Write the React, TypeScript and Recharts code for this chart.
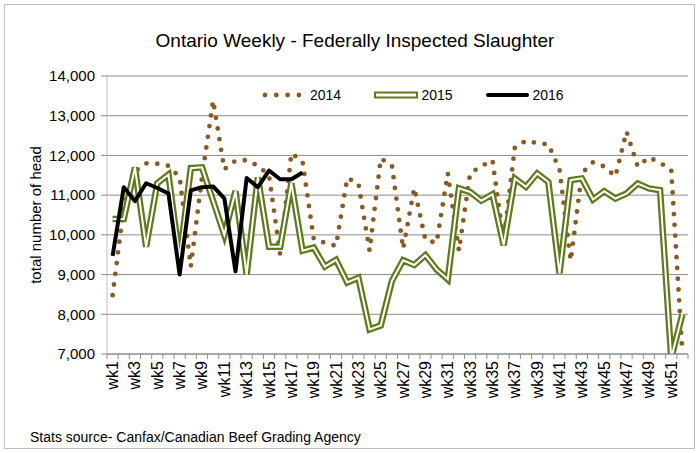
import React from 'react';
import { LineChart, Line, XAxis, YAxis, CartesianGrid, Customized } from 'recharts';

const weeks = [
  'wk1', 'wk2', 'wk3', 'wk4', 'wk5', 'wk6', 'wk7', 'wk8', 'wk9', 'wk10',
  'wk11', 'wk12', 'wk13', 'wk14', 'wk15', 'wk16', 'wk17', 'wk18', 'wk19', 'wk20',
  'wk21', 'wk22', 'wk23', 'wk24', 'wk25', 'wk26', 'wk27', 'wk28', 'wk29', 'wk30',
  'wk31', 'wk32', 'wk33', 'wk34', 'wk35', 'wk36', 'wk37', 'wk38', 'wk39', 'wk40',
  'wk41', 'wk42', 'wk43', 'wk44', 'wk45', 'wk46', 'wk47', 'wk48', 'wk49', 'wk50',
  'wk51', 'wk52',
];

const y2014 = [
  8480, 10700, 11600, 11800, 11790, 11740, 11450, 9200, 11450, 13380,
  11650, 11870, 11880, 11740, 11500, 9500, 12050, 11850, 9900, 9800,
  9720, 11430, 11300, 9600, 11920, 11750, 9650, 11180, 9870, 9800,
  11550, 9600, 11550, 11730, 11880, 9850, 12200, 12370, 12310, 12280,
  11650, 9350, 11550, 11830, 11720, 11470, 12600, 11720, 11950, 11820,
  11630, 7000,
];

const y2015 = [
  10400, 10400, 11700, 9700, 11300, 11520, 9400, 11680, 11700, 10850,
  10000, 11100, 9000, 11450, 9700, 9700, 11300, 9600, 9680, 9200,
  9370, 8800, 8920, 7620, 7720, 8840, 9360, 9240, 9490, 9130,
  8880, 11170, 11080, 10860, 11020, 9740, 11420, 11210, 11545, 11330,
  9030, 11380, 11420, 10890, 11100, 10915, 11040, 11290, 11170, 11125,
  6900, 8000,
];

const y2016 = [
  9470, 11200, 10850, 11300, 11180, 11040, 9000, 11120, 11200, 11220,
  10920, 9080, 11430, 11200, 11620, 11400, 11400, 11570,
];

const yTicks = [7000, 8000, 9000, 10000, 11000, 12000, 13000, 14000];
const seriesNames = ['2014', '2015', '2016'];
const title = 'Ontario Weekly - Federally Inspected Slaughter';
const yLabel = 'total number of head';
const source = 'Stats source- Canfax/Canadian Beef Grading Agency';

const BROWN = '#8a5a24';
const GREEN = '#5f7a1c';
const GRID = '#8c8c8c';
const FONT = "'Liberation Sans', Arial, sans-serif";
const HALF_BAND = 5.59;

const data = weeks.map((week, i) => ({
  week,
  y2014: y2014[i],
  y2015: y2015[i],
  y2016: y2016[i],
}));

function WeekTick(props: any) {
  const { x, y, payload, index } = props;
  const half = payload && payload.offset ? payload.offset : HALF_BAND;
  return (
    <g>
      <line x1={x - half} x2={x - half} y1={y} y2={y + 5} stroke={GRID} />
      {index === weeks.length - 1 && (
        <line x1={x + half} x2={x + half} y1={y} y2={y + 5} stroke={GRID} />
      )}
      {index % 2 === 0 && (
        <text
          transform={`translate(${x},${y + 7}) rotate(-90)`}
          textAnchor="end"
          dominantBaseline="central"
          fontSize={16}
          fill="#000"
          fontFamily={FONT}
        >
          {payload.value}
        </text>
      )}
    </g>
  );
}

function Decor() {
  return (
    <g fontFamily={FONT} fill="#000">
      <rect x={4.5} y={4.5} width={690} height={444} fill="none" stroke="#bfbfbf" />
      <text x={355} y={47} textAnchor="middle" fontSize={19}>
        {title}
      </text>
      <text
        transform="translate(35,215) rotate(-90)"
        textAnchor="middle"
        dominantBaseline="central"
        fontSize={15}
      >
        {yLabel}
      </text>
      <text x={30} y={442} fontSize={14}>
        {source}
      </text>
      {/* legend */}
      <line
        x1={265}
        x2={299}
        y1={95}
        y2={95}
        stroke={BROWN}
        strokeWidth={4.8}
        strokeDasharray="0 11.3"
        strokeLinecap="round"
      />
      <text x={310} y={95} dominantBaseline="central" fontSize={14}>
        {seriesNames[0]}
      </text>
      <rect x={375} y={92.5} width={42} height={5} fill="#fff" stroke={GREEN} strokeWidth={2} />
      <text x={421.5} y={95} dominantBaseline="central" fontSize={14}>
        {seriesNames[1]}
      </text>
      <line x1={488} x2={527} y1={95} y2={95} stroke="#000" strokeWidth={4} strokeLinecap="round" />
      <text x={532.5} y={95} dominantBaseline="central" fontSize={14}>
        {seriesNames[2]}
      </text>
    </g>
  );
}

export default function App() {
  return (
    <div style={{ position: 'absolute', left: 0, top: 0, width: 699, height: 453, background: '#fff' }}>
      <LineChart
        width={699}
        height={453}
        data={data}
        margin={{ top: 76, right: 11, bottom: 39, left: 0 }}
      >
        <CartesianGrid vertical={false} stroke={GRID} />
        <XAxis
          dataKey="week"
          interval={0}
          height={60}
          tickSize={0}
          tickMargin={0}
          tickLine={false}
          padding={{ left: HALF_BAND, right: HALF_BAND }}
          axisLine={{ stroke: GRID }}
          tick={<WeekTick />}
        />
        <YAxis
          domain={[7000, 14000]}
          ticks={yTicks}
          allowDataOverflow
          width={107}
          tickSize={6}
          tickMargin={6}
          axisLine={{ stroke: '#bfbfbf' }}
          tickLine={{ stroke: GRID }}
          tick={{ fill: '#000', fontSize: 15, fontFamily: FONT }}
          tickFormatter={(v: number) => v.toLocaleString('en-US')}
        />
        <Line
          dataKey="y2014"
          name={seriesNames[0]}
          stroke={BROWN}
          strokeWidth={4.8}
          strokeDasharray="0 10.8"
          strokeLinecap="round"
          dot={false}
          activeDot={false}
          isAnimationActive={false}
        />
        <Line
          dataKey="y2015"
          name={seriesNames[1]}
          stroke={GREEN}
          strokeWidth={6.5}
          dot={false}
          activeDot={false}
          isAnimationActive={false}
        />
        <Line
          dataKey="y2015"
          name={seriesNames[1] + ' inner'}
          stroke="#ffffff"
          strokeWidth={2}
          dot={false}
          activeDot={false}
          isAnimationActive={false}
        />
        <Line
          dataKey="y2016"
          name={seriesNames[2]}
          stroke="#000000"
          strokeWidth={4}
          strokeLinejoin="round"
          dot={false}
          activeDot={false}
          isAnimationActive={false}
        />
        <Customized component={Decor} />
      </LineChart>
    </div>
  );
}
